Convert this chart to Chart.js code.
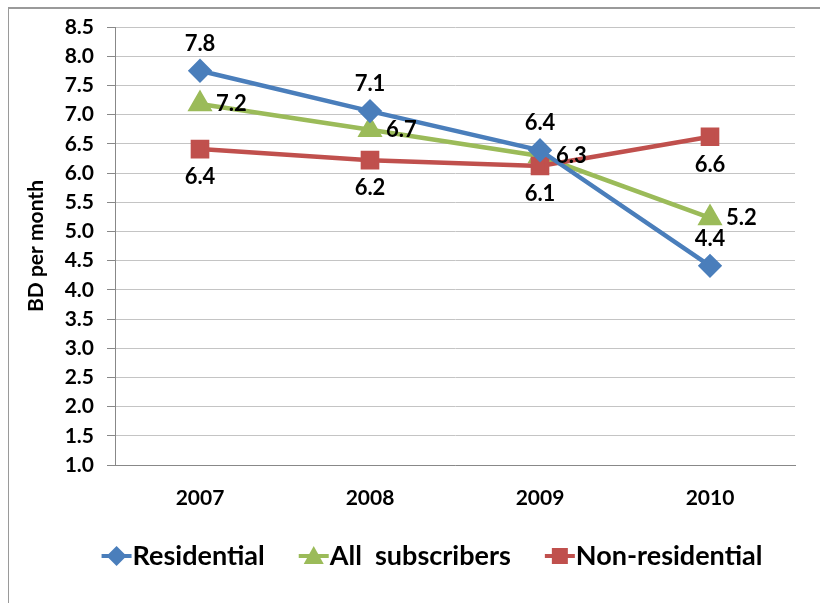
<!DOCTYPE html>
<html lang="en">
<head>
    <meta charset="UTF-8">
    <title>BD per month</title>
    <script src="https://cdn.jsdelivr.net/npm/chart.js"></script>
    <style>
        body {
            margin: 0;
            background-color: #fff;
            font-family: Lato, "Open Sans", sans-serif;
        }
        .wrap {
            position: relative;
            width: 820px;
            height: 603px;
            overflow: hidden;
        }
        .frame {
            position: absolute;
            left: 8px;
            top: 7px;
            width: 830px;
            height: 620px;
            border-top: 2px solid #9a9a9a;
            border-left: 1px solid #9a9a9a;
        }
        .title {
            position: absolute;
            left: 62px;
            top: -29px;
            color: #ff0000;
            font-weight: bold;
            font-size: 24px;
            white-space: nowrap;
        }
        canvas {
            position: absolute;
            left: 0;
            top: 0;
        }
    </style>
</head>
<body>
<div class="wrap">
    <div class="title">Figure 3: Average spending per subscriber (ARPU), BD per month</div>
    <div class="frame"></div>
    <canvas id="chart" width="820" height="603"></canvas>
</div>
<script>
    const years = ["2007", "2008", "2009", "2010"];
    const residential = [7.75, 7.06, 6.39, 4.41];
    const allSubscribers = [7.18, 6.74, 6.29, 5.23];
    const nonResidential = [6.41, 6.22, 6.12, 6.62];

    const FONT = "Lato, 'Open Sans', sans-serif";

    function drawMarker(ctx, style, x, y, r) {
        ctx.beginPath();
        if (style === "rectRot") {
            ctx.moveTo(x, y - r); ctx.lineTo(x + r, y); ctx.lineTo(x, y + r); ctx.lineTo(x - r, y);
        } else if (style === "triangle") {
            ctx.moveTo(x, y - r); ctx.lineTo(x + r, y + r * 0.8); ctx.lineTo(x - r, y + r * 0.8);
        } else {
            ctx.rect(x - r * 0.8, y - r * 0.8, r * 1.6, r * 1.6);
        }
        ctx.closePath();
        ctx.fill();
    }

    // value labels next to the points + legend under the axis
    const labelsAndLegend = {
        id: "labelsAndLegend",
        afterDatasetsDraw(chart) {
            const ctx = chart.ctx;
            ctx.save();
            ctx.font = "bold 22px " + FONT;
            ctx.fillStyle = "#000";
            ctx.textBaseline = "middle";
            chart.data.datasets.forEach((ds, i) => {
                const meta = chart.getDatasetMeta(i);
                meta.data.forEach((pt, j) => {
                    const txt = ds.data[j].toFixed(1);
                    let x = pt.x, y = pt.y;
                    if (ds.labelPos === "top") {
                        ctx.textAlign = "center";
                        y -= 27;
                    } else if (ds.labelPos === "bottom") {
                        ctx.textAlign = "center";
                        y += 28;
                    } else {
                        ctx.textAlign = "left";
                        x += 16;
                    }
                    ctx.fillText(txt, x, y);
                });
            });
            ctx.restore();
        },
        afterDraw(chart) {
            const ctx = chart.ctx;
            const iconW = 30, gapIcon = 1, gapItem = 34;
            const cy = 556;
            ctx.save();
            ctx.font = "bold 27px " + FONT;
            ctx.textBaseline = "middle";
            ctx.textAlign = "left";
            const items = chart.data.datasets.map(ds => ({
                ds: ds,
                w: iconW + gapIcon + ctx.measureText(ds.label).width
            }));
            const total = items.reduce((s, it) => s + it.w, 0) + gapItem * (items.length - 1);
            let x = 432 - total / 2;
            items.forEach(it => {
                const ds = it.ds;
                ctx.strokeStyle = ds.borderColor;
                ctx.lineWidth = 4;
                ctx.beginPath();
                ctx.moveTo(x, cy);
                ctx.lineTo(x + iconW, cy);
                ctx.stroke();
                ctx.fillStyle = ds.backgroundColor;
                drawMarker(ctx, ds.pointStyle, x + iconW / 2, cy, 10);
                ctx.fillStyle = "#000";
                ctx.fillText(ds.label, x + iconW + gapIcon, cy);
                x += it.w + gapItem;
            });
            ctx.restore();
        }
    };

    new Chart(document.getElementById("chart"), {
        type: "line",
        data: {
            labels: years,
            datasets: [
                {
                    label: "Residential",
                    data: residential,
                    borderColor: "#4a7ebb",
                    backgroundColor: "#4a7ebb",
                    pointStyle: "rectRot",
                    pointRadius: 9,
                    borderWidth: 4.5,
                    labelPos: "top",
                    order: 1
                },
                {
                    label: "All  subscribers",
                    data: allSubscribers,
                    borderColor: "#9bbb59",
                    backgroundColor: "#9bbb59",
                    pointStyle: "triangle",
                    pointRadius: 10,
                    borderWidth: 4.5,
                    labelPos: "right",
                    order: 3
                },
                {
                    label: "Non-residential",
                    data: nonResidential,
                    borderColor: "#c0504d",
                    backgroundColor: "#c0504d",
                    pointStyle: "rect",
                    pointRadius: 10,
                    borderWidth: 4.5,
                    labelPos: "bottom",
                    order: 2
                }
            ]
        },
        options: {
            responsive: false,
            animation: false,
            layout: {
                padding: { top: 27, right: 25, bottom: 88, left: 0 }
            },
            elements: {
                line: { tension: 0 },
                point: { borderWidth: 1 }
            },
            plugins: {
                tooltip: { enabled: false },
                legend: { display: false }
            },
            scales: {
                x: {
                    offset: true,
                    grid: { display: false, drawTicks: false },
                    border: { color: "#888", width: 1 },
                    ticks: {
                        color: "#000",
                        padding: 21,
                        font: { family: FONT, size: 21, weight: "bold" }
                    },
                    afterFit(scale) { scale.height = 50; }
                },
                y: {
                    min: 1,
                    max: 8.5,
                    grid: { color: "#c4c4c4", tickColor: "#888", tickLength: 8 },
                    border: { color: "#888", width: 1 },
                    ticks: {
                        stepSize: 0.5,
                        color: "#000",
                        padding: 13,
                        font: { family: FONT, size: 21, weight: "bold" },
                        callback: v => v.toFixed(1)
                    },
                    title: {
                        display: true,
                        text: "BD per month",
                        color: "#000",
                        font: { family: FONT, size: 21, weight: "bold" },
                        padding: { top: 24, bottom: 0 }
                    },
                    afterFit(scale) { scale.width = 115; }
                }
            }
        },
        plugins: [labelsAndLegend]
    });
</script>
</body>
</html>
